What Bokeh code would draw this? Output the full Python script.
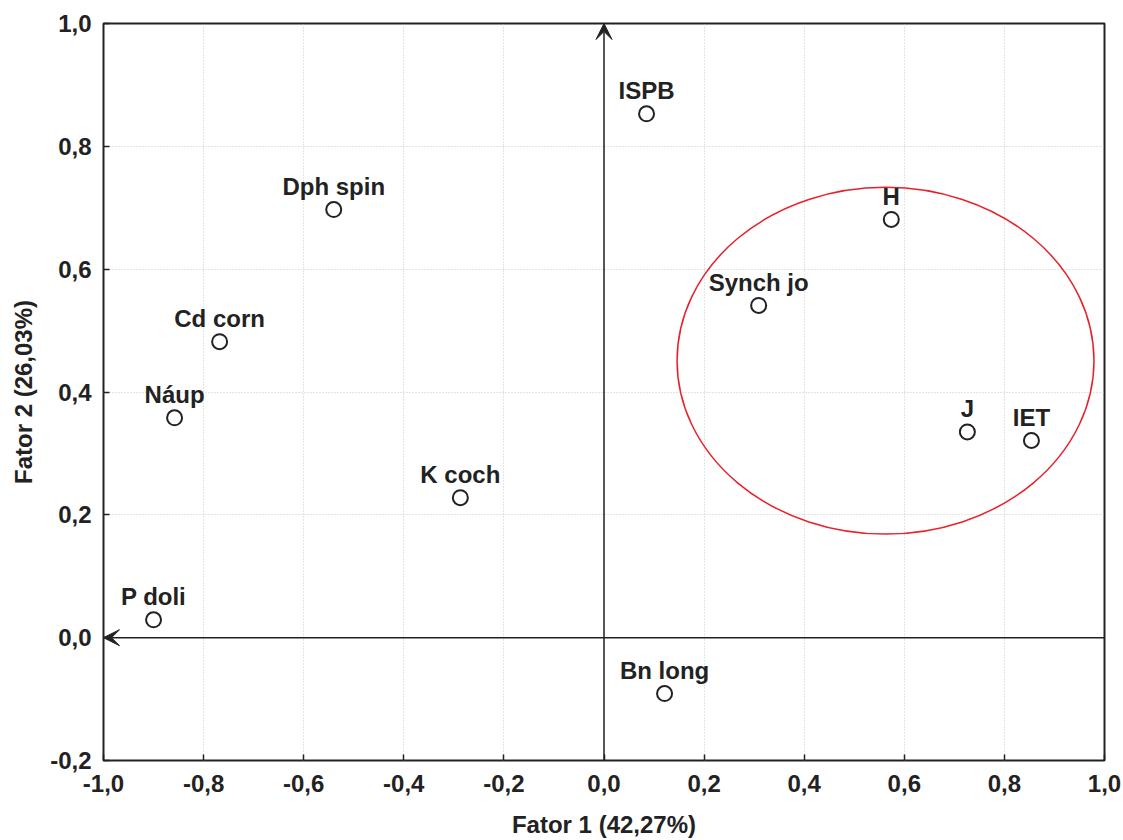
from bokeh.plotting import figure
from bokeh.models import FixedTicker, Arrow, VeeHead, ColumnDataSource, Range1d
from bokeh.core.properties import value
from bokeh.embed import file_html
from bokeh.resources import INLINE

names = ["ISPB", "Dph spin", "H", "Synch jo", "Cd corn", "Náup", "J", "IET",
         "K coch", "P doli", "Bn long"]
fator1 = [0.085, -0.540, 0.574, 0.309, -0.768, -0.858, 0.726, 0.854, -0.287, -0.900, 0.121]
fator2 = [0.853, 0.697, 0.681, 0.541, 0.482, 0.358, 0.335, 0.321, 0.228, 0.029, -0.091]

x_ticks = [-1.0, -0.8, -0.6, -0.4, -0.2, 0.0, 0.2, 0.4, 0.6, 0.8, 1.0]
y_ticks = [-0.2, 0.0, 0.2, 0.4, 0.6, 0.8, 1.0]
x_tick_labels = ["-1,0", "-0,8", "-0,6", "-0,4", "-0,2", "0,0", "0,2", "0,4", "0,6", "0,8", "1,0"]
y_tick_labels = ["-0,2", "0,0", "0,2", "0,4", "0,6", "0,8", "1,0"]

ellipse_center = (0.5625, 0.451)
ellipse_size = (0.833, 0.565)

FONT = "Liberation Sans"

p = figure(width=1123, height=840, output_backend="svg", toolbar_location=None,
           x_range=Range1d(-1.0, 1.0), y_range=Range1d(-0.2, 1.0),
           min_border_left=103, min_border_right=19, min_border_top=23, min_border_bottom=80)
p.background_fill_color = "white"
p.border_fill_color = "white"
p.outline_line_color = "#222222"
p.outline_line_width = 2

p.xaxis.ticker = FixedTicker(ticks=x_ticks)
p.yaxis.ticker = FixedTicker(ticks=y_ticks)
p.xaxis.major_label_overrides = {t: l for t, l in zip(x_ticks, x_tick_labels)}
p.yaxis.major_label_overrides = {t: l for t, l in zip(y_ticks, y_tick_labels)}
for ax in (p.xaxis, p.yaxis):
    ax.axis_line_color = None
    ax.major_tick_in = 6
    ax.major_tick_out = 0
    ax.minor_tick_line_color = None
    ax.major_tick_line_color = "#222222"
    ax.major_tick_line_width = 1.5
    ax.major_label_text_font = FONT
    ax.major_label_text_font_style = "bold"
    ax.major_label_text_font_size = "24px"
    ax.major_label_text_color = "#222222"
    ax.axis_label_text_font = FONT
    ax.axis_label_text_font_style = "bold"
    ax.axis_label_text_font_size = "24px"
    ax.axis_label_text_color = "#222222"
p.xaxis.major_label_standoff = 14
p.yaxis.major_label_standoff = 12
p.xaxis.axis_label = "Fator 1 (42,27%)"
p.yaxis.axis_label = "Fator 2 (26,03%)"
p.xaxis.axis_label_standoff = 16
p.yaxis.axis_label_standoff = 10

p.grid.grid_line_color = "#c8c8c8"
p.grid.grid_line_dash = "1 2"
p.grid.grid_line_width = 1

# axes through origin with arrows
p.add_layout(Arrow(end=VeeHead(size=16, fill_color="#222222", line_color="#222222"),
                   x_start=1.0, y_start=0.0, x_end=-1.0, y_end=0.0,
                   line_color="#222222", line_width=1.5))
p.add_layout(Arrow(end=VeeHead(size=16, fill_color="#222222", line_color="#222222"),
                   x_start=0.0, y_start=-0.2, x_end=0.0, y_end=1.0,
                   line_color="#222222", line_width=1.5))

p.ellipse(x=[ellipse_center[0]], y=[ellipse_center[1]],
          width=[ellipse_size[0]], height=[ellipse_size[1]],
          fill_color=None, line_color="#e8202a", line_width=1.5)

src = ColumnDataSource(dict(x=fator1, y=fator2, name=names))
p.scatter("x", "y", source=src, size=15, fill_color="white",
          line_color="#222222", line_width=2)
p.text("x", "y", text="name", source=src, text_align="center",
       text_baseline="alphabetic", y_offset=-23,
       text_font=value(FONT), text_font_style="bold",
       text_font_size="24px", text_color="#222222")

open("out.html", "w").write(file_html(p, INLINE))
